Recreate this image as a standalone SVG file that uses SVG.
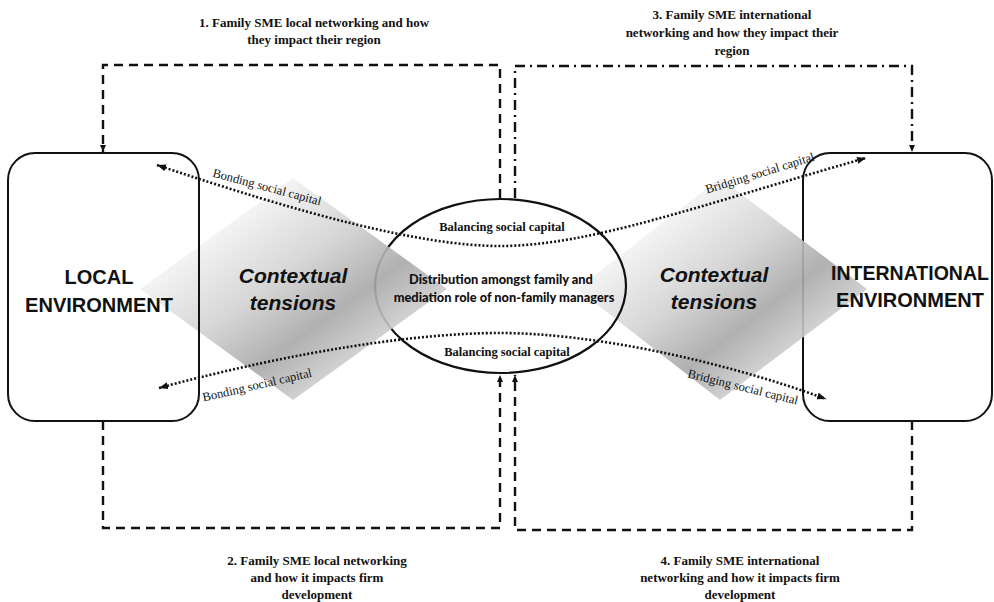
<svg xmlns="http://www.w3.org/2000/svg" width="994" height="602" viewBox="0 0 994 602">
  <style>
    .box { fill: #ffffff; stroke: #111; stroke-width: 2; }
    .boxline { fill: none; stroke: #111; stroke-width: 2; }
    .ell { fill: none; stroke: #111; stroke-width: 2.2; }
    .dash { fill: none; stroke: #111; stroke-width: 2.4; stroke-dasharray: 9 6; }
    .dashdot { fill: none; stroke: #111; stroke-width: 2.4; stroke-dasharray: 10 5 2 5; }
    .dot { fill: none; stroke: #111; stroke-width: 2.6; stroke-dasharray: 2 2; }
    .title { font-family: "Liberation Serif", "Times New Roman", serif; font-weight: bold; font-size: 13px; fill: #111; text-anchor: middle; }
    .flow { font-family: "Liberation Serif", "Times New Roman", serif; font-size: 12.5px; fill: #111; text-anchor: middle; }
    .bal { font-family: "Liberation Serif", "Times New Roman", serif; font-weight: bold; font-size: 12.5px; fill: #111; text-anchor: middle; }
    .env { font-family: "Liberation Sans", Arial, sans-serif; font-weight: bold; font-size: 20px; fill: #111; text-anchor: middle; }
    .ctx { font-family: "Liberation Sans", Arial, sans-serif; font-weight: bold; font-style: italic; font-size: 21px; fill: #111; text-anchor: middle; }
    .mid { font-family: Lato, "Liberation Sans", sans-serif; font-weight: 900; font-size: 12.8px; fill: #111; text-anchor: middle; }
  </style>
  <defs>
    <linearGradient id="tension" x1="0" y1="0" x2="1" y2="1">
      <stop offset="0.25" stop-color="#f2f2f2"/>
      <stop offset="0.45" stop-color="#d2d2d2"/>
      <stop offset="0.62" stop-color="#a8a8a8"/>
      <stop offset="0.75" stop-color="#cccccc"/>
    </linearGradient>
    <marker id="dotHead" markerUnits="userSpaceOnUse" markerWidth="10" markerHeight="8" refX="9" refY="3.5" orient="auto-start-reverse">
      <path d="M0,0 L9,3.5 L0,7 z" fill="#111"/>
    </marker>
    <marker id="dashHead" markerUnits="userSpaceOnUse" markerWidth="8" markerHeight="7" refX="7" refY="3" orient="auto">
      <path d="M0,0 L7,3 L0,6 z" fill="#111"/>
    </marker>
  </defs>

  <!-- international environment (lies under the right tension diamond) -->
  <g id="international-environment">
    <rect class="box" x="803" y="153" width="189" height="268" rx="27" ry="27"/>
  </g>

  <!-- right contextual tensions diamond -->
  <g id="tensions-right">
    <polygon points="720,178 867,289 720,400 577,289" fill="url(#tension)" opacity="0.9"/>
  </g>

  <!-- family / non-family managers core -->
  <g id="family-core">
    <ellipse class="ell" cx="500.5" cy="286" rx="125.5" ry="87"/>
  </g>

  <!-- local environment box fill, then diamond, then its border on top -->
  <g id="local-environment">
    <rect x="8" y="153" width="191" height="268" rx="27" ry="27" fill="#ffffff"/>
  </g>

  <g id="tensions-left">
    <polygon points="293,178 447,289 293,400 140,289" fill="url(#tension)" opacity="0.9"/>
  </g>

  <g id="local-environment-border">
    <rect class="boxline" x="8" y="153" width="191" height="268" rx="27" ry="27"/>
  </g>

  <!-- connectors -->
  <g id="connectors">
    <!-- 1: local networking impact on region -->
    <path class="dash" d="M500,198 V65 H103 V152" marker-end="url(#dashHead)"/>
    <!-- 2: local networking impact on firm development -->
    <path class="dash" d="M103,421 V528 H500 V375" marker-end="url(#dashHead)"/>
    <!-- 3: international networking impact on region -->
    <path class="dashdot" d="M515,198 V66 H912 V152" marker-end="url(#dashHead)"/>
    <!-- 4: international networking impact on firm development -->
    <path class="dash" d="M912,421 V530 H515 V375" marker-end="url(#dashHead)"/>

    <!-- bonding / bridging social capital flows -->
    <path class="dot" d="M157,165 C300,213 420,246 500,246 C590,246 700,205 866,158" marker-start="url(#dotHead)" marker-end="url(#dotHead)"/>
    <path class="dot" d="M159,388 C300,350 420,333 500,333 C590,333 720,360 826,399" marker-start="url(#dotHead)" marker-end="url(#dotHead)"/>
  </g>

  <!-- labels -->
  <g id="labels">
    <text class="flow" transform="translate(266,191) rotate(15)">Bonding social capital</text>
    <text class="flow" transform="translate(258,389) rotate(-13)">Bonding social capital</text>
    <text class="flow" transform="translate(761,177) rotate(-17)">Bridging social capital</text>
    <text class="flow" transform="translate(742,391) rotate(14)">Bridging social capital</text>

    <text class="bal" x="502" y="231">Balancing social capital</text>
    <text class="bal" x="507" y="356">Balancing social capital</text>

    <text class="mid" x="501" y="284">Distribution amongst family and</text>
    <text class="mid" x="504" y="302">mediation role of non-family managers</text>

    <text class="env" x="99" y="284">LOCAL</text>
    <text class="env" x="99" y="312">ENVIRONMENT</text>
    <text class="env" x="910" y="280" style="font-size:19.5px">INTERNATIONAL</text>
    <text class="env" x="910" y="307">ENVIRONMENT</text>

    <text class="ctx" x="293" y="283">Contextual</text>
    <text class="ctx" x="293" y="310">tensions</text>
    <text class="ctx" x="714" y="282">Contextual</text>
    <text class="ctx" x="714" y="309">tensions</text>

    <text class="title" x="314" y="27">1. Family SME local networking and how</text>
    <text class="title" x="314" y="44">they impact their region</text>

    <text class="title" x="732" y="19">3. Family SME international</text>
    <text class="title" x="732" y="37">networking and how they impact their</text>
    <text class="title" x="732" y="55">region</text>

    <text class="title" x="317" y="565">2. Family SME local networking</text>
    <text class="title" x="317" y="582">and how it impacts firm</text>
    <text class="title" x="317" y="599">development</text>

    <text class="title" x="740" y="565">4. Family SME international</text>
    <text class="title" x="740" y="582">networking and how it impacts firm</text>
    <text class="title" x="740" y="599">development</text>
  </g>
</svg>
